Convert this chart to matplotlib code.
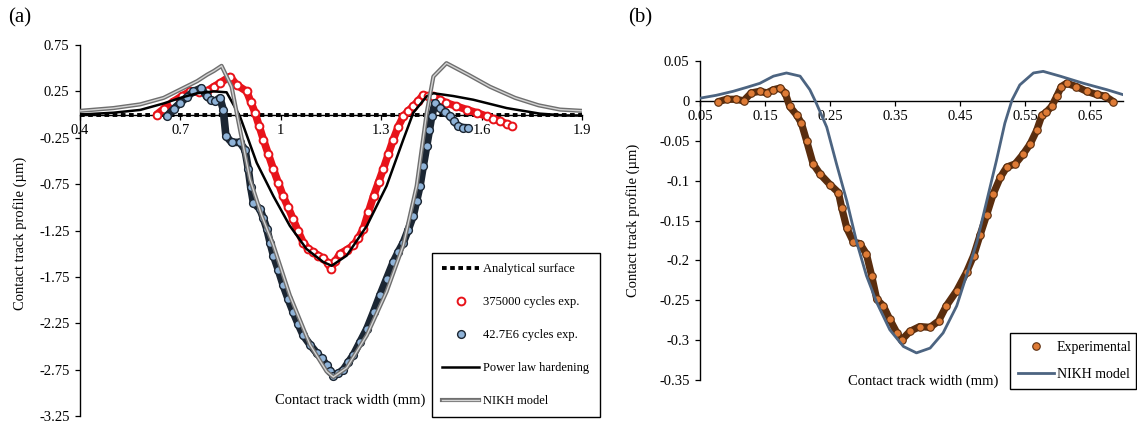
import matplotlib
matplotlib.use('Agg')
import matplotlib.pyplot as plt
import matplotlib.patheffects as pe

plt.rcParams['font.family'] = ['Liberation Serif', 'DejaVu Serif']
plt.rcParams['axes.unicode_minus'] = False

# ---------------- panel (a) data ----------------
surf_x = [0.4, 1.9]
surf_y = [0.0, 0.0]

exp375_x = [0.629, 0.65, 0.679, 0.705, 0.729, 0.755, 0.778, 0.80, 0.818, 0.848,
            0.868, 0.898, 0.91, 0.923, 0.935, 0.948, 0.963, 0.978, 0.993, 1.007,
            1.022, 1.037, 1.052, 1.067, 1.082, 1.097, 1.112, 1.127, 1.14, 1.149,
            1.163, 1.177, 1.197, 1.217, 1.232, 1.247, 1.262, 1.277, 1.292, 1.306,
            1.321, 1.336, 1.351, 1.366, 1.381, 1.396, 1.411, 1.426, 1.441, 1.456,
            1.475, 1.495, 1.525, 1.555, 1.585, 1.615, 1.635, 1.655, 1.675, 1.69]
exp375_y = [0.0, 0.06, 0.14, 0.20, 0.25, 0.24, 0.25, 0.30, 0.34, 0.41,
            0.32, 0.25, 0.14, 0.02, -0.12, -0.27, -0.43, -0.59, -0.74, -0.88,
            -1.00, -1.13, -1.26, -1.38, -1.45, -1.48, -1.52, -1.55, -1.60, -1.66,
            -1.58, -1.50, -1.46, -1.41, -1.33, -1.23, -1.05, -0.88, -0.73, -0.59,
            -0.43, -0.27, -0.13, -0.02, 0.04, 0.09, 0.15, 0.21, 0.20, 0.20,
            0.16, 0.125, 0.09, 0.054, 0.02, -0.018, -0.045, -0.07, -0.10, -0.125]

exp427_x = [0.659, 0.68, 0.699, 0.72, 0.739, 0.763, 0.778, 0.79, 0.803, 0.818,
            0.828, 0.836, 0.853, 0.878, 0.893, 0.903, 0.91, 0.918, 0.938, 0.948,
            0.958, 0.968, 0.978, 0.993, 1.007, 1.022, 1.037, 1.052, 1.067, 1.087,
            1.107, 1.122, 1.137, 1.147, 1.157, 1.172, 1.187, 1.202, 1.217, 1.237,
            1.257, 1.277, 1.296, 1.316, 1.336, 1.351, 1.366, 1.381, 1.396, 1.406,
            1.416, 1.426, 1.436, 1.444, 1.451, 1.461, 1.476, 1.49, 1.506, 1.518,
            1.53, 1.545, 1.56]
exp427_y = [-0.018, 0.06, 0.125, 0.19, 0.25, 0.286, 0.196, 0.16, 0.143, 0.18,
            0.054, -0.23, -0.30, -0.30, -0.38, -0.59, -0.78, -0.95, -1.02, -1.12,
            -1.23, -1.38, -1.52, -1.68, -1.84, -1.99, -2.13, -2.26, -2.38, -2.48,
            -2.57, -2.63, -2.70, -2.76, -2.82, -2.79, -2.75, -2.67, -2.59, -2.45,
            -2.31, -2.13, -1.95, -1.77, -1.59, -1.48, -1.38, -1.24, -1.09, -0.93,
            -0.77, -0.55, -0.34, -0.17, -0.018, 0.125, 0.07, 0.03, -0.018, -0.07,
            -0.125, -0.14, -0.143]

power_x = [0.40, 0.50, 0.58, 0.65, 0.70, 0.75, 0.80, 0.838, 0.878, 0.928,
           0.978, 1.027, 1.077, 1.127, 1.152, 1.197, 1.257, 1.316, 1.366, 1.396,
           1.436, 1.456, 1.515, 1.575, 1.675, 1.774, 1.85, 1.90]
power_y = [0.0, 0.02, 0.05, 0.12, 0.18, 0.23, 0.25, 0.24, -0.02, -0.52,
           -0.88, -1.20, -1.45, -1.59, -1.63, -1.52, -1.20, -0.77, -0.27, 0.02,
           0.197, 0.23, 0.20, 0.16, 0.07, 0.01, -0.01, -0.01]

nikh_a_x = [0.40, 0.50, 0.58, 0.65, 0.70, 0.75, 0.78, 0.80, 0.823, 0.853,
            0.878, 0.908, 0.943, 0.978, 1.027, 1.087, 1.137, 1.157, 1.197, 1.257,
            1.316, 1.366, 1.406, 1.436, 1.456, 1.495, 1.56, 1.625, 1.70, 1.77,
            1.834, 1.90]
nikh_a_y = [0.04, 0.07, 0.11, 0.18, 0.27, 0.36, 0.43, 0.47, 0.525, 0.30,
            -0.16, -0.70, -1.09, -1.41, -1.95, -2.48, -2.77, -2.83, -2.73, -2.38,
            -1.91, -1.41, -0.77, 0.02, 0.41, 0.554, 0.43, 0.30, 0.18, 0.10,
            0.054, 0.04]

xticks_a = [0.4, 0.7, 1.0, 1.3, 1.6, 1.9]
xlabels_a = ['0.4', '0.7', '1', '1.3', '1.6', '1.9']
yticks_a = [0.75, 0.25, -0.25, -0.75, -1.25, -1.75, -2.25, -2.75, -3.25]
ylabels_a = ['0.75', '0.25', '-0.25', '-0.75', '-1.25', '-1.75', '-2.25', '-2.75', '-3.25']

# ---------------- panel (b) data ----------------
exp_b_x = [0.078, 0.091, 0.106, 0.117, 0.129, 0.142, 0.153, 0.163, 0.173, 0.181,
           0.188, 0.199, 0.206, 0.214, 0.224, 0.235, 0.25, 0.263, 0.268, 0.276,
           0.286, 0.296, 0.306, 0.314, 0.322, 0.332, 0.342, 0.353, 0.36, 0.373,
           0.388, 0.404, 0.417, 0.429, 0.445, 0.46, 0.471, 0.481, 0.491, 0.501,
           0.512, 0.522, 0.535, 0.547, 0.558, 0.568, 0.576, 0.583, 0.591, 0.599,
           0.606, 0.614, 0.629, 0.645, 0.66, 0.673, 0.686]
exp_b_y = [-0.001, 0.002, 0.002, 0.0, 0.01, 0.012, 0.01, 0.014, 0.016, 0.01,
           -0.007, -0.018, -0.028, -0.05, -0.079, -0.092, -0.105, -0.115, -0.134, -0.16,
           -0.177, -0.179, -0.192, -0.219, -0.249, -0.257, -0.274, -0.291, -0.30, -0.289,
           -0.283, -0.284, -0.276, -0.257, -0.238, -0.215, -0.194, -0.168, -0.143, -0.117,
           -0.096, -0.083, -0.079, -0.067, -0.054, -0.037, -0.018, -0.014, -0.007, 0.006,
           0.018, 0.022, 0.018, 0.012, 0.008, 0.006, -0.001]

nikh_b_x = [0.05, 0.075, 0.101, 0.122, 0.142, 0.163, 0.183, 0.204, 0.219, 0.229,
            0.245, 0.26, 0.276, 0.291, 0.306, 0.322, 0.342, 0.363, 0.383, 0.404,
            0.424, 0.445, 0.46, 0.476, 0.491, 0.506, 0.519, 0.53, 0.542, 0.563,
            0.578, 0.604, 0.64, 0.676, 0.70]
nikh_b_y = [0.0034, 0.007, 0.012, 0.017, 0.022, 0.031, 0.035, 0.031, 0.014, -0.003,
            -0.033, -0.079, -0.126, -0.177, -0.219, -0.253, -0.287, -0.308, -0.316, -0.31,
            -0.291, -0.257, -0.219, -0.177, -0.126, -0.075, -0.028, 0.001, 0.02, 0.035,
            0.037, 0.031, 0.022, 0.014, 0.008]

xticks_b = [0.05, 0.15, 0.25, 0.35, 0.45, 0.55, 0.65]
xlabels_b = ['0.05', '0.15', '0.25', '0.35', '0.45', '0.55', '0.65']
yticks_b = [0.05, 0, -0.05, -0.1, -0.15, -0.2, -0.25, -0.3, -0.35]
ylabels_b = ['0.05', '0', '-0.05', '-0.1', '-0.15', '-0.2', '-0.25', '-0.3', '-0.35']

W, H = 1137, 426
fig = plt.figure(figsize=(W / 100, H / 100), dpi=100)
axA = fig.add_axes([80 / W, 1 - 416 / H, 502 / W, 371 / H])
axB = fig.add_axes([700 / W, 1 - 380 / H, 422.5 / W, 319 / H])


def style_axes(ax, xt, xl, yt, yl):
    for s in ['top', 'right']:
        ax.spines[s].set_visible(False)
    ax.spines['bottom'].set_position(('data', 0))
    ax.spines['left'].set_linewidth(1.0)
    ax.spines['bottom'].set_linewidth(1.0)
    ax.set_xticks(xt)
    ax.set_xticklabels(xl)
    ax.set_yticks(yt)
    ax.set_yticklabels(yl)
    ax.tick_params(axis='both', direction='out', length=3.5, width=0.9,
                   labelsize=10.5, colors='black')
    ax.tick_params(axis='x', pad=3)
    ax.tick_params(axis='y', pad=4)
    ax.patch.set_alpha(0)


# panel (a)
axA.plot(surf_x, surf_y, color='black', lw=2.8, linestyle=(0, (1.2, 0.9)),
         dash_capstyle='butt', label='Analytical surface', zorder=3)
axA.plot(exp375_x, exp375_y, color='#e8131a', lw=5.5, zorder=4,
         solid_capstyle='round')
axA.plot(exp375_x, exp375_y, linestyle='none', marker='o', ms=5.6,
         mfc='white', mec='#e8131a', mew=1.4, label='375000 cycles exp.', zorder=4)
axA.plot(exp427_x, exp427_y, color='#1b2633', lw=5.5, zorder=5,
         solid_capstyle='round')
axA.plot(exp427_x, exp427_y, linestyle='none', marker='o', ms=5.6,
         mfc='#8fb3d8', mec='#1b2633', mew=1.0, label='42.7E6 cycles exp.', zorder=5)
axA.plot(power_x, power_y, color='black', lw=1.8, label='Power law hardening', zorder=6)
axA.plot(nikh_a_x, nikh_a_y, color='#d4d4d4', lw=1.0, label='NIKH model', zorder=7,
         path_effects=[pe.Stroke(linewidth=3.0, foreground='#6f6f6f'), pe.Normal()])

axA.set_xlim(0.4, 1.9)
axA.set_ylim(-3.25, 0.75)
style_axes(axA, xticks_a, xlabels_a, yticks_a, ylabels_a)

legA = axA.legend(loc='upper left', bbox_to_anchor=(432 / W, 1 - 414 / H, 168 / W, 161 / H),
                  bbox_transform=fig.transFigure, mode='expand', fontsize=9,
                  fancybox=False, edgecolor='black', framealpha=1,
                  labelspacing=1.68, handlelength=3.0, handletextpad=0.3,
                  borderpad=0.8, borderaxespad=0, numpoints=1)
legA.get_frame().set_linewidth(1.0)

# panel (b)
axB.plot(exp_b_x, exp_b_y, color='#5a2d0e', lw=5.2, zorder=3, solid_capstyle='round')
axB.plot(exp_b_x, exp_b_y, linestyle='none', marker='o', ms=5.4,
         mfc='#de7b36', mec='#5a2d0e', mew=0.8, label='Experimental', zorder=4)
axB.plot(nikh_b_x, nikh_b_y, color='#4c6481', lw=2.0, label='NIKH model', zorder=5)

axB.set_xlim(0.05, 0.7)
axB.set_ylim(-0.35, 0.05)
style_axes(axB, xticks_b, xlabels_b, yticks_b, ylabels_b)

legB = axB.legend(loc='upper left', bbox_to_anchor=(1010 / W, 1 - 393 / H, 126 / W, 60 / H),
                  bbox_transform=fig.transFigure, mode='expand', fontsize=10,
                  fancybox=False, edgecolor='black', framealpha=1,
                  labelspacing=0.95, handlelength=2.6, handletextpad=0.15,
                  borderpad=0.6, borderaxespad=0, numpoints=1)
legB.get_frame().set_linewidth(1.0)

# titles / labels
fig.text(8 / W, 1 - 18 / H, '(a)', fontsize=15, ha='left', va='center')
fig.text(628 / W, 1 - 18 / H, '(b)', fontsize=15, ha='left', va='center')
fig.text(350 / W, 1 - 400 / H, 'Contact track width (mm)', fontsize=10.5,
         ha='center', va='center')
fig.text(923 / W, 1 - 381 / H, 'Contact track width (mm)', fontsize=10.5,
         ha='center', va='center')
fig.text(20 / W, 1 - 233 / H, 'Contact track profile (µm)', fontsize=10.5,
         rotation=90, ha='center', va='center')
fig.text(633 / W, 1 - 220 / H, 'Contact track profile (µm)', fontsize=10.5,
         rotation=90, ha='center', va='center')

fig.savefig('out.png', dpi=100)
